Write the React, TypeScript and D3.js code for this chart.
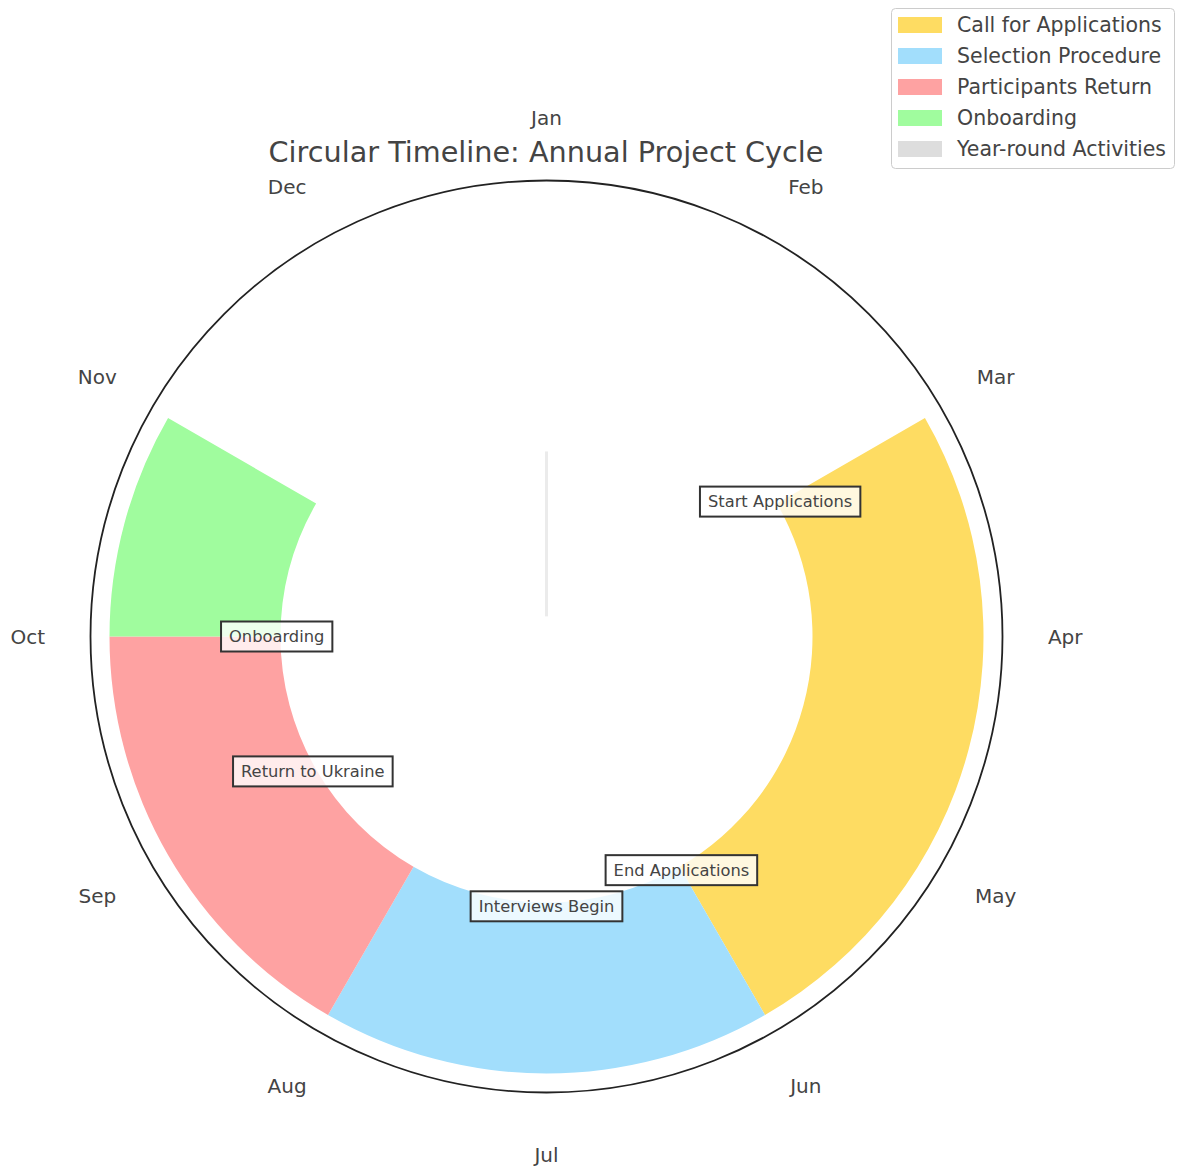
import React from "react";
import * as d3 from "d3";

const months = ["Jan", "Feb", "Mar", "Apr", "May", "Jun", "Jul", "Aug", "Sep", "Oct", "Nov", "Dec"];
const phaseNames = ["Call for Applications", "Selection Procedure", "Participants Return", "Onboarding"];
const phaseStart = [2, 5, 7, 9]; // month index
const phaseEnd = [5, 7, 9, 10];
const phaseColors = ["#FEDC62", "#A2DEFC", "#FEA2A2", "#A0FC9E"];
const yearRoundName = "Year-round Activities";
const yearRoundColor = "#DDDDDD";
const annotationTexts = ["Start Applications", "End Applications", "Interviews Begin", "Return to Ukraine", "Onboarding"];
const annotationMonths = [2, 5, 6, 8, 9];

const W = 1178, H = 1169;
const cx = 546.5, cy = 636.5;
const ringBottom = 0.7, ringTop = 1.15, rMax = 1.2;
const annotR = 0.71;
const yearRoundR0 = 0.053, yearRoundR1 = 0.487;

const annotFontSize = 16.3;
let ctx: CanvasRenderingContext2D | null = null;
function measure(t: string, size: number) {
  if (!ctx) ctx = document.createElement("canvas").getContext("2d");
  if (!ctx) return t.length * size * 0.55;
  ctx.font = `${size}px 'DejaVu Sans'`;
  return ctx.measureText(t).width;
}

export default function App() {
  const r = d3.scaleLinear().domain([0, rMax]).range([0, 456]);
  const theta = d3.scaleLinear().domain([0, 12]).range([0, 2 * Math.PI]);
  const arc = d3.arc<any>();
  const font = "'DejaVu Sans', sans-serif";
  const pos = (m: number, rv: number) => {
    const a = theta(m);
    return [cx + r(rv) * Math.sin(a), cy - r(rv) * Math.cos(a)];
  };
  return (
    <svg width={W} height={H} style={{ position: "absolute", left: 0, top: 0 }} fontFamily={font}>
      <rect width={W} height={H} fill="#fff" />
      <g transform={`translate(${cx},${cy})`}>
        {phaseNames.map((n, i) => (
          <path
            key={n}
            d={arc({ innerRadius: r(ringBottom), outerRadius: r(ringTop), startAngle: theta(phaseStart[i]), endAngle: theta(phaseEnd[i]) }) as string}
            fill={phaseColors[i]}
          />
        ))}
        <line x1={0} x2={0} y1={-r(yearRoundR0)} y2={-r(yearRoundR1)} stroke="#ebebeb" strokeWidth={3} />
        <circle r={r(rMax)} fill="none" stroke="#222" strokeWidth={1.8} />
      </g>
      {months.map((m, i) => {
        const [x, y] = pos(i, 1.365);
        return (
          <text key={m} x={x} y={y} textAnchor="middle" dominantBaseline="central" fontSize={20} fill="#444">
            {m}
          </text>
        );
      })}
      <text x={546} y={152} textAnchor="middle" dominantBaseline="central" fontSize={28.7} fill="#444">
        Circular Timeline: Annual Project Cycle
      </text>
      {annotationTexts.map((t, i) => {
        const [x, y] = pos(annotationMonths[i], annotR);
        const w = measure(t, annotFontSize) + 16;
        return (
          <g key={t}>
            <rect x={x - w / 2} y={y - 15} width={w} height={30} fill="#fff" fillOpacity={0.8} stroke="#333" strokeWidth={2} />
            <text x={x} y={y} textAnchor="middle" dominantBaseline="central" fontSize={annotFontSize} fill="#444">
              {t}
            </text>
          </g>
        );
      })}
      <g>
        <rect x={891.5} y={8.5} width={283} height={160} rx={4} fill="#fff" stroke="#ccc" strokeWidth={1} />
        {[...phaseNames, yearRoundName].map((n, i) => {
          const c = i < phaseColors.length ? phaseColors[i] : yearRoundColor;
          const y = 25 + i * 31;
          return (
            <g key={n}>
              <rect x={898} y={y - 8} width={44} height={16} fill={c} />
              <text x={957} y={y} dominantBaseline="central" fontSize={20.5} fill="#444">
                {n}
              </text>
            </g>
          );
        })}
      </g>
    </svg>
  );
}
